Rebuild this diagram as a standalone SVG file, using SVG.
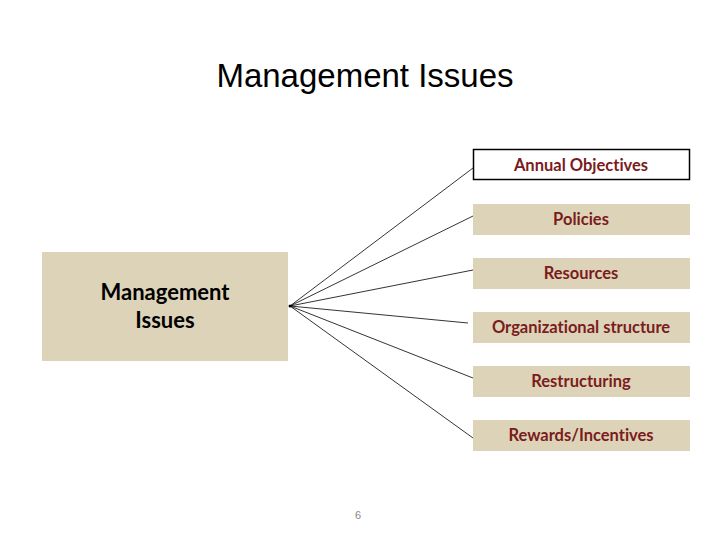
<svg xmlns="http://www.w3.org/2000/svg" width="720" height="540" viewBox="0 0 720 540">
<style>
.box{fill:#ddd3b8;}
.lbl{font-family:Lato,"Liberation Sans",sans-serif;font-weight:bold;font-size:16.5px;fill:#7a1c1c;text-anchor:middle;font-variant-ligatures:none;}
.conn line{stroke:#000;stroke-width:0.8;}
</style>
<rect width="720" height="540" fill="#fff"/>
<text x="365" y="87" font-family="Liberation Sans,Arial,sans-serif" font-size="33" text-anchor="middle" fill="#000">Management Issues</text>
<g id="root">
<rect class="box" x="42" y="252" width="246" height="109"/>
<text font-family="Lato,'Liberation Sans',sans-serif" font-weight="bold" font-size="22" fill="#000" text-anchor="middle" style="font-variant-ligatures:none"><tspan x="165" y="300">Management</tspan><tspan x="165" y="328">Issues</tspan></text>
</g>
<g class="conn" id="connectors">
<line x1="290" y1="306" x2="473" y2="168"/>
<line x1="290" y1="306" x2="473" y2="216"/>
<line x1="290" y1="306" x2="473" y2="270"/>
<line x1="290" y1="306" x2="468" y2="323"/>
<line x1="290" y1="306" x2="473" y2="378"/>
<line x1="290" y1="306" x2="473" y2="438"/>
<circle cx="290" cy="306" r="1.5" fill="#000"/>
</g>
<g id="n1"><rect x="473.5" y="149.5" width="216" height="30" fill="#fff" stroke="#000" stroke-width="1.5"/><text class="lbl" x="581" y="171">Annual Objectives</text></g>
<g id="n2"><rect class="box" x="473" y="204" width="217" height="31"/><text class="lbl" x="581" y="225">Policies</text></g>
<g id="n3"><rect class="box" x="473" y="258" width="217" height="31"/><text class="lbl" x="581" y="279">Resources</text></g>
<g id="n4"><rect class="box" x="473" y="312" width="217" height="31"/><text class="lbl" x="581" y="333">Organizational structure</text></g>
<g id="n5"><rect class="box" x="473" y="366" width="217" height="31"/><text class="lbl" x="581" y="387">Restructuring</text></g>
<g id="n6"><rect class="box" x="473" y="420" width="217" height="31"/><text class="lbl" x="581" y="441">Rewards/Incentives</text></g>
<text x="358" y="519" font-family="Liberation Sans,sans-serif" font-size="11" fill="#888" text-anchor="middle">6</text>
</svg>
